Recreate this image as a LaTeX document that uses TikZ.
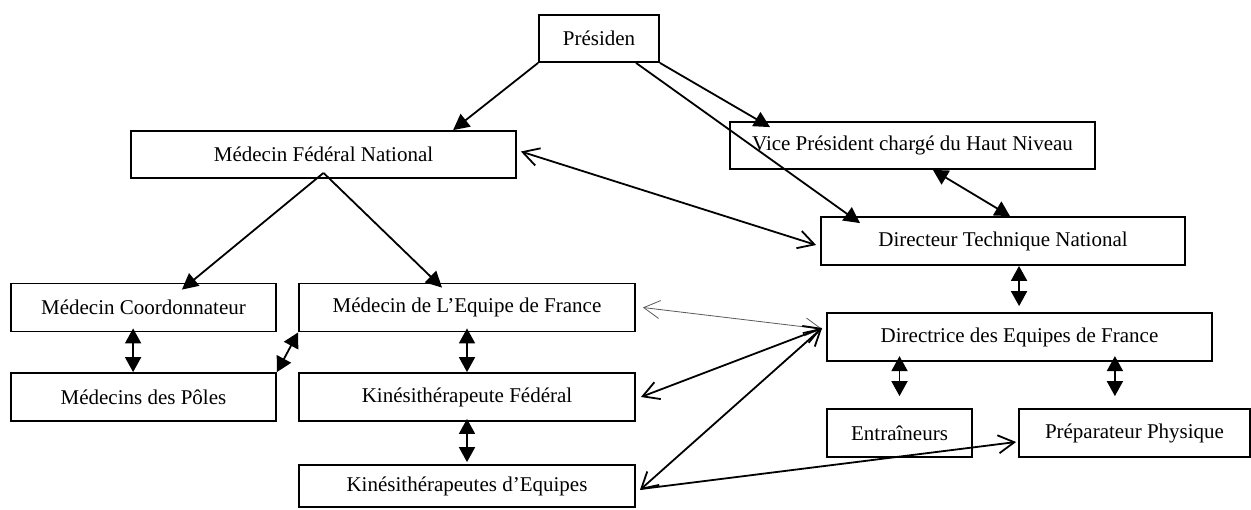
\documentclass[tikz,border=0pt]{standalone}
\usepackage{fontspec}
\setmainfont{Liberation Serif}
\usetikzlibrary{arrows.meta}
\begin{document}
\begin{tikzpicture}[x=0.5pt,y=-0.5pt,
  boite/.style={draw, line width=0.9pt, rectangle, inner sep=0pt, minimum height=24pt, font=\fontsize{10.5}{12}\selectfont},
  fleche/.style={line width=0.9pt, -{Triangle[length=8pt,width=8pt]}},
  fdouble/.style={line width=0.9pt, {Triangle[length=7.5pt,width=8pt]}-{Triangle[length=7.5pt,width=8pt]}},
  ouverte/.style={line width=0.9pt, {Straight Barb[length=8pt,width=9pt]}-{Straight Barb[length=8pt,width=9pt]}},
  ouverte1/.style={line width=0.9pt, -{Straight Barb[length=8pt,width=9pt]}},
  fine/.style={line width=0.4pt, draw=gray!70!black, {Straight Barb[length=8pt,width=9pt]}-{Straight Barb[length=8pt,width=9pt]}}]
\useasboundingbox (0,0) rectangle (1251,509);

\node[boite, minimum width=60pt, minimum height=23.5pt] (pres) at (599,38.5) {Présiden};
\node[boite, minimum width=192.5pt, minimum height=23.5pt] (mfn) at (323.5,154.5) {Médecin Fédéral National};
\node[boite, minimum width=182.5pt, minimum height=23.5pt] (vp) at (912.5,145.5) {Vice Président chargé du Haut Niveau};
\node[boite, minimum width=182pt] (dtn) at (1003,241) {Directeur Technique National};
\node[boite, minimum width=132.5pt] (mc) at (143.5,307.5) {Médecin Coordonnateur};
\node[boite, minimum width=132.5pt] (mdp) at (143.5,397) {Médecins des Pôles};
\node[boite, minimum width=168pt] (mef) at (467,307.5) {Médecin de L’Equipe de France};
\node[boite, minimum width=168pt] (kf) at (467,397) {Kinésithérapeute Fédéral};
\node[boite, minimum width=168pt, minimum height=21pt] (ke) at (467,486) {Kinésithérapeutes d’Equipes};
\node[boite, minimum width=192.5pt] (dir) at (1019.5,337) {Directrice des Equipes de France};
\node[boite, minimum width=72.5pt] (ent) at (899.5,433) {Entraîneurs};
\node[boite, minimum width=115.5pt] (prep) at (1134.5,433) {Préparateur Physique};

\draw[fleche] (pres.south west) -- ([xshift=64.8pt]mfn.north);
\draw[fleche] ([xshift=18.5pt]pres.south) -- ([xshift=-71.5pt,yshift=-3.5pt]dtn.north);
\draw[fleche] (pres.south east) -- ([xshift=-71.2pt,yshift=-3pt]vp.north);
\draw[fdouble] ([xshift=10.2pt]vp.south) -- ([xshift=3.5pt]dtn.north);
\draw[ouverte] ([xshift=2pt,yshift=1.5pt]mfn.east) -- ([xshift=-2pt,yshift=-2pt]dtn.west);

\draw[fleche] ([yshift=3pt]mfn.south) -- ([xshift=19.2pt,yshift=-3.5pt]mc.north);
\draw[fleche] ([yshift=3pt]mfn.south) -- ([xshift=-12.5pt,yshift=-2.5pt]mef.north);

\draw[fdouble] ([xshift=-5.2pt,yshift=2pt]mc.south) -- ([xshift=-5.2pt]mdp.north);
\draw[fdouble] (mdp.north east) -- (mef.south west);
\draw[fdouble] ([yshift=2pt]mef.south) -- (kf.north);
\draw[fdouble] ([yshift=1.5pt]kf.south) -- ([yshift=1pt]ke.north);

\draw[fine] ([xshift=3.5pt]mef.east) -- ([xshift=-2pt,yshift=4pt]dir.west);
\draw[ouverte] ([xshift=2.5pt]kf.east) -- ([xshift=-2pt,yshift=4.5pt]dir.west);
\draw[ouverte] ([xshift=2pt,yshift=-2pt]ke.east) -- ([xshift=-2pt,yshift=4.5pt]dir.west);
\draw[ouverte1] ([xshift=2.5pt,yshift=-1.5pt]ke.east) -- ([xshift=-1pt,yshift=-4.5pt]prep.west);

\draw[fdouble] ([xshift=8pt]dtn.south) -- ([xshift=-0.2pt,yshift=3pt]dir.north);
\draw[fdouble] ([yshift=26pt]ent.north) -- ([yshift=6pt]ent.north);
\draw[fdouble] ([xshift=-9.8pt,yshift=26pt]prep.north) -- ([xshift=-9.8pt,yshift=6pt]prep.north);
\end{tikzpicture}
\end{document}
